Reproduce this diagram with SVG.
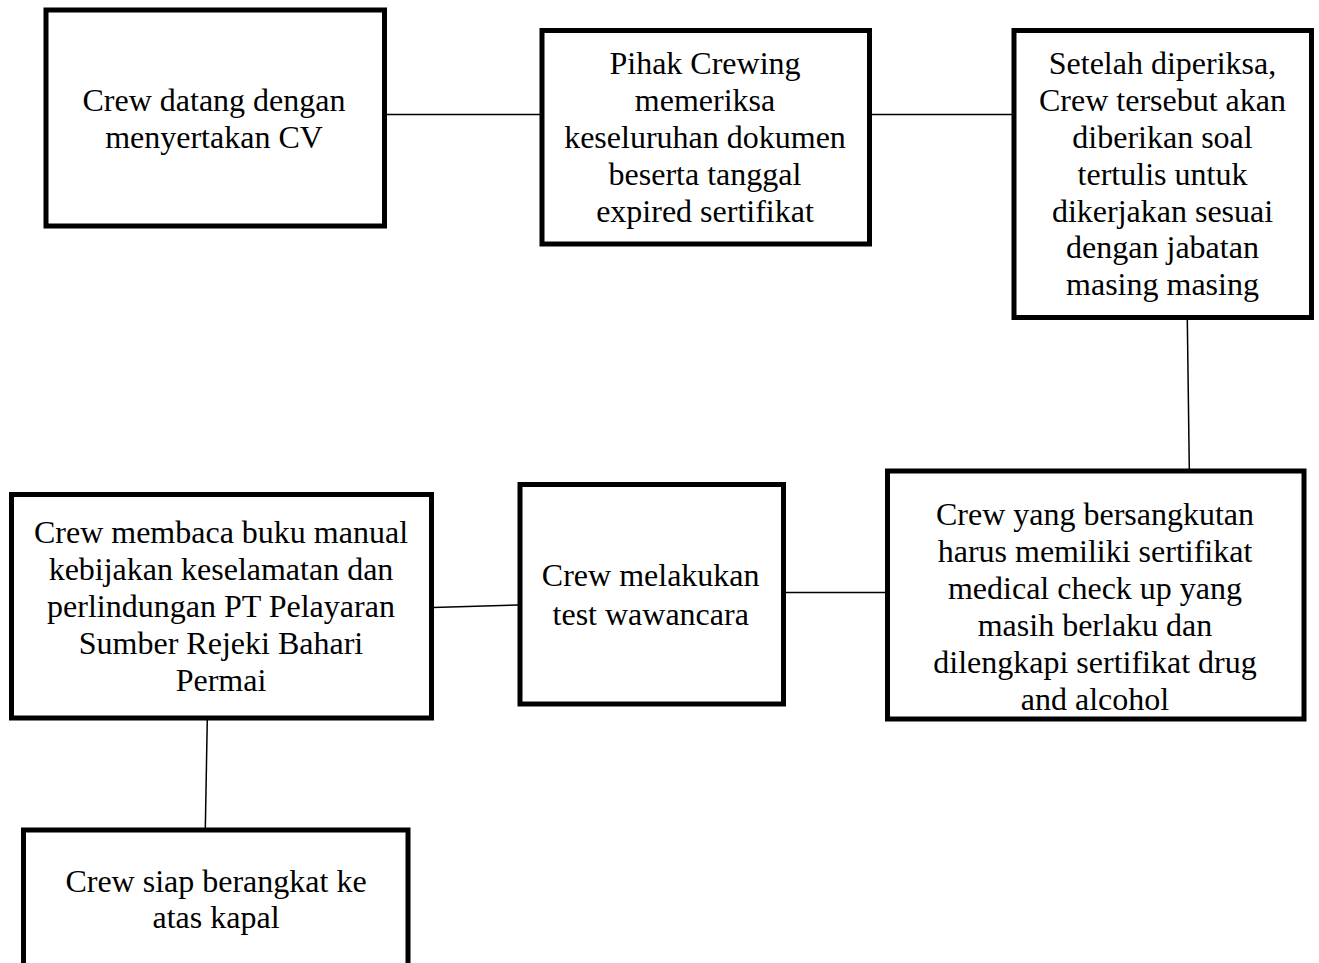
<svg xmlns="http://www.w3.org/2000/svg" width="1319" height="963" viewBox="0 0 1319 963">
<style>
.box{fill:#fff;stroke:#000;stroke-width:5}
.lbl{font-family:"Liberation Serif","Times New Roman",serif;font-size:32px;fill:#000;text-anchor:middle}
.conn{stroke:#000;stroke-width:1.5;fill:none}
</style>
<rect width="1319" height="963" fill="#fff"/>
<g id="connectors">
<line class="conn" x1="386" y1="114.5" x2="540" y2="114.5"/>
<line class="conn" x1="871" y1="114.5" x2="1012" y2="114.5"/>
<line class="conn" x1="1187.3" y1="319" x2="1189.3" y2="469"/>
<line class="conn" x1="785" y1="592.5" x2="886" y2="592.5"/>
<line class="conn" x1="433" y1="607.5" x2="518" y2="605"/>
<line class="conn" x1="207.3" y1="719" x2="205.3" y2="829"/>
</g>
<g id="n1">
<rect class="box" x="46" y="10" width="338.5" height="216"/>
<text class="lbl" x="214" y="110.7">Crew datang dengan</text>
<text class="lbl" x="214" y="148">menyertakan CV</text>
</g>
<g id="n2">
<rect class="box" x="542" y="30.5" width="327.5" height="213.5"/>
<text class="lbl" x="705" y="74.3">Pihak Crewing</text>
<text class="lbl" x="705" y="111">memeriksa</text>
<text class="lbl" x="705" y="147.7">keseluruhan dokumen</text>
<text class="lbl" x="705" y="185">beserta tanggal</text>
<text class="lbl" x="705" y="221.7">expired sertifikat</text>
</g>
<g id="n3">
<rect class="box" x="1014" y="30.5" width="297.5" height="287"/>
<text class="lbl" x="1162.5" y="74.3">Setelah diperiksa,</text>
<text class="lbl" x="1162.5" y="110.7">Crew tersebut akan</text>
<text class="lbl" x="1162.5" y="147.7">diberikan soal</text>
<text class="lbl" x="1162.5" y="185">tertulis untuk</text>
<text class="lbl" x="1162.5" y="221.7">dikerjakan sesuai</text>
<text class="lbl" x="1162.5" y="258.3">dengan jabatan</text>
<text class="lbl" x="1162.5" y="295">masing masing</text>
</g>
<g id="n4">
<rect class="box" x="887.5" y="471" width="416.5" height="248"/>
<text class="lbl" x="1095" y="525">Crew yang bersangkutan</text>
<text class="lbl" x="1095" y="561.7">harus memiliki sertifikat</text>
<text class="lbl" x="1095" y="599">medical check up yang</text>
<text class="lbl" x="1095" y="635.7">masih berlaku dan</text>
<text class="lbl" x="1095" y="673.3">dilengkapi sertifikat drug</text>
<text class="lbl" x="1095" y="710">and alcohol</text>
</g>
<g id="n5">
<rect class="box" x="520" y="484.5" width="263.5" height="219.5"/>
<text class="lbl" x="650.7" y="586">Crew melakukan</text>
<text class="lbl" x="650.7" y="625">test wawancara</text>
</g>
<g id="n6">
<rect class="box" x="11.5" y="494.5" width="420" height="223.5"/>
<text class="lbl" x="221" y="542.7">Crew membaca buku manual</text>
<text class="lbl" x="221" y="580">kebijakan keselamatan dan</text>
<text class="lbl" x="221" y="616.7">perlindungan PT Pelayaran</text>
<text class="lbl" x="221" y="654">Sumber Rejeki Bahari</text>
<text class="lbl" x="221" y="690.7">Permai</text>
</g>
<g id="n7">
<rect class="box" x="23.5" y="830" width="384.5" height="160"/>
<text class="lbl" x="216" y="891.7">Crew siap berangkat ke</text>
<text class="lbl" x="216" y="928.3">atas kapal</text>
</g>
</svg>
